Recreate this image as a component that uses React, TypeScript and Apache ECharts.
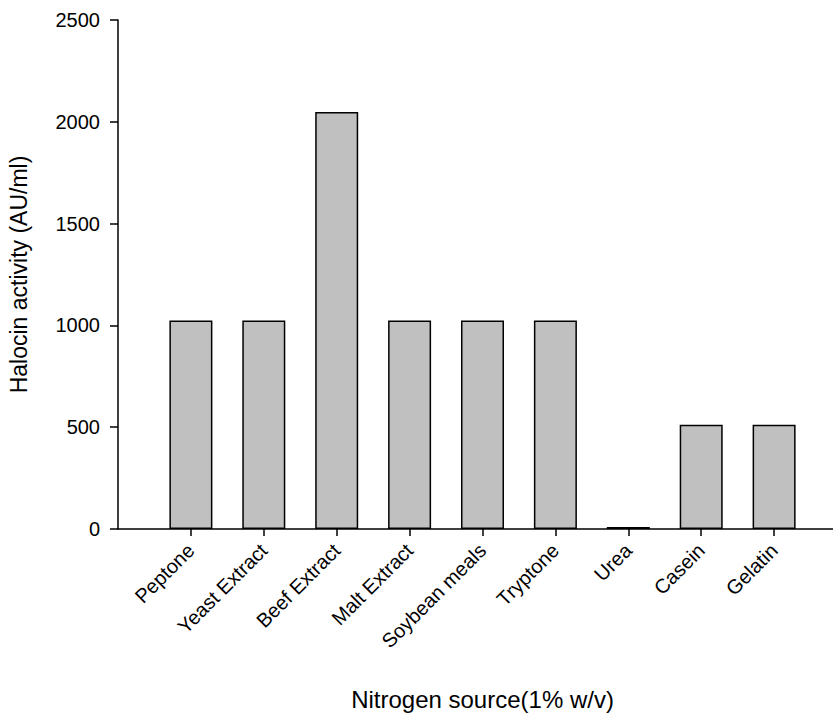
import React, { useEffect, useRef } from "react";
import * as echarts from "echarts";

const categories = ["", "Peptone", "Yeast Extract", "Beef Extract", "Malt Extract", "Soybean meals", "Tryptone", "Urea", "Casein", "Gelatin", ""];
const values: (number | string)[] = ["-", 1024, 1024, 2048, 1024, 1024, 1024, 10, 512, 512, "-"];
const yTicks = { min: 0, max: 2500, interval: 500 };

const FONT = "'Liberation Sans', Arial, sans-serif";

export default function App() {
  const ref = useRef<HTMLDivElement>(null);
  useEffect(() => {
    document.body.style.margin = "0";
    if (!ref.current) return;
    const chart = echarts.init(ref.current, null, { renderer: "svg" });
    chart.setOption({
      animation: false,
      backgroundColor: "#ffffff",
      textStyle: { fontFamily: FONT },
      grid: { left: 118, right: -14, top: 20, bottom: 184, outerBoundsMode: "none", containLabel: false },
      xAxis: {
        type: "category",
        data: categories,
        boundaryGap: false,
        name: "Nitrogen source(1% w/v)",
        nameLocation: "middle",
        nameGap: 158,
        nameTextStyle: { fontSize: 24, color: "#000", fontFamily: FONT },
        axisLine: { show: true, lineStyle: { color: "#000", width: 1.5 } },
        axisTick: {
          show: true,
          length: 7,
          interval: (index: number) => index >= 1 && index <= 9,
          lineStyle: { color: "#000", width: 1.5 },
        },
        axisLabel: {
          interval: 0,
          rotate: 45,
          fontSize: 20,
          color: "#000",
          margin: 18,
          fontFamily: FONT,
        },
        splitLine: { show: false },
      },
      yAxis: {
        type: "value",
        min: yTicks.min,
        max: yTicks.max,
        interval: yTicks.interval,
        name: "Halocin activity (AU/ml)",
        nameLocation: "middle",
        nameGap: 88,
        nameTextStyle: { fontSize: 23, color: "#000", fontFamily: FONT },
        axisLine: { show: true, lineStyle: { color: "#000", width: 1.5 } },
        axisTick: { show: true, length: 8, lineStyle: { color: "#000", width: 1.5 } },
        axisLabel: { fontSize: 20, color: "#000", margin: 18, fontFamily: FONT, formatter: (v: number) => String(v) },
        splitLine: { show: false },
      },
      series: [
        {
          type: "bar",
          data: values,
          barWidth: 43,
          itemStyle: { color: "#c0c0c0", borderColor: "#000", borderWidth: 1.5 },
        },
      ],
    });
    return () => chart.dispose();
  }, []);
  return <div ref={ref} style={{ width: 833, height: 713 }} />;
}
